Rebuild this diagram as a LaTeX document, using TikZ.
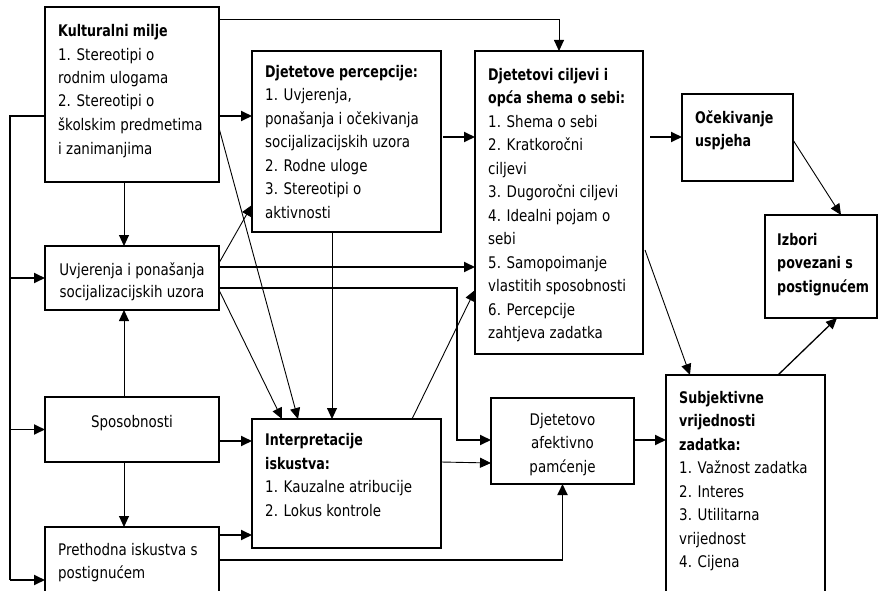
\documentclass[tikz,border=0pt]{standalone}
\usepackage{fontspec}
\setmainfont{DejaVu Sans}[FakeStretch=0.84]
\newfontfamily\titlefont{DejaVu Sans}[FakeStretch=0.79]
\usetikzlibrary{arrows.meta}
\newcommand\mybold[1]{{\titlefont\bfseries #1}}
\tikzset{
  box/.style={draw, line width=1.6pt, inner sep=0pt, outer sep=0pt},
  txt/.style={inner sep=0pt, align=left, anchor=base west, font=\fontsize{16}{23.5}\selectfont},
  ctxt/.style={inner sep=0pt, align=center, anchor=base, font=\fontsize{16}{23.5}\selectfont},
  thk/.style={line width=1.8pt, -{Triangle[length=11pt,width=10pt]}},
  thn/.style={line width=0.9pt, -{Triangle[length=11pt,width=10pt]}},
  plainthk/.style={line width=1.8pt}
}
\begin{document}
\begin{tikzpicture}[x=1pt,y=-1pt]
\useasboundingbox (0,0) rectangle (878,591);
\fill[white] (0,0) rectangle (878,591);
% boxes
\node[box, minimum width=174pt, minimum height=175pt] (K)  at (132,94.5) {};
\node[box, minimum width=189pt, minimum height=181pt] (DP) at (346.5,141.5) {};
\node[box, minimum width=168pt, minimum height=303pt] (DC) at (559,202.5) {};
\node[box, minimum width=111pt, minimum height=87pt]  (OU) at (737.5,137.5) {};
\node[box, minimum width=112pt, minimum height=103pt] (IZ) at (821,266.5) {};
\node[box, minimum width=174pt, minimum height=64pt]  (UP) at (132,278) {};
\node[box, minimum width=174pt, minimum height=65pt]  (SP) at (132,429.5) {};
\node[box, minimum width=174pt, minimum height=83pt]  (PR) at (132,568.5) {};
\node[box, minimum width=189pt, minimum height=129pt] (IN) at (346.5,483.5) {};
\node[box, minimum width=143pt, minimum height=86pt]  (AP) at (562.5,441) {};
\node[box, minimum width=159pt, minimum height=235pt] (SV) at (745.5,492.5) {};
% texts (anchor = baseline of the last line)
\node[txt] (Kt) at (58,154) {\mybold{Kulturalni milje}\\1. Stereotipi o\\rodnim ulogama\\2. Stereotipi o\\školskim predmetima\\i zanimanjima};
\node[txt] (DPt) at (265,218) {\mybold{Djetetove percepcije:}\\1. Uvjerenja,\\ponašanja i očekivanja\\socijalizacijskih uzora\\2. Rodne uloge\\3. Stereotipi o\\aktivnosti};
\node[txt] (DCt) at (488,338.5) {\mybold{Djetetovi ciljevi i}\\\mybold{opća shema o sebi:}\\1. Shema o sebi\\2. Kratkoročni\\ciljevi\\3. Dugoročni ciljevi\\4. Idealni pojam o\\sebi\\5. Samopoimanje\\vlastitih sposobnosti\\6. Percepcije\\zahtjeva zadatka};
\node[txt] (OUt) at (695,146.5) {\mybold{Očekivanje}\\\mybold{uspjeha}};
\node[txt] (IZt) at (777,292) {\mybold{Izbori}\\\mybold{povezani s}\\\mybold{postignućem}};
\node[ctxt, font=\fontsize{16}{22}\selectfont] (UPt) at (132,297) {Uvjerenja i ponašanja\\socijalizacijskih uzora};
\node[ctxt] (SPt) at (132,427) {Sposobnosti};
\node[txt] (PRt) at (58,578.5) {Prethodna iskustva s\\postignućem};
\node[txt] (INt) at (265,516) {\mybold{Interpretacije}\\\mybold{iskustva:}\\1. Kauzalne atribucije\\2. Lokus kontrole};
\node[ctxt] (APt) at (562.5,472) {Djetetovo\\afektivno\\pamćenje};
\node[txt] (SVt) at (679,567.5) {\mybold{Subjektivne}\\\mybold{vrijednosti}\\\mybold{zadatka:}\\1. Važnost zadatka\\2. Interes\\3. Utilitarna\\vrijednost\\4. Cijena};
% helper coordinates
\coordinate (bus) at (10,0);
\coordinate (cx) at (124,0);
\coordinate (kk) at (457,0);
% connectors
\draw[thn] (K.east |- 0,19) -| (DC.north);
\draw[thk] (K.east |- 0,116) -- (DP.west |- 0,116);
\draw[plainthk] (K.west |- 0,116) -- (bus |- 0,116) -- (bus |- 0,580);
\draw[thk] (bus |- 0,580) -- (PR.west |- 0,580);
\draw[thk] (bus |- UP.west) -- (UP.west);
\draw[thk] (bus |- SP.west) -- (SP.west);
\draw[thn] (K.south -| cx) -- (UP.north -| cx);
\draw[thn] (SP.north -| cx) -- (UP.south -| cx);
\draw[thn] (SP.south -| cx) -- (PR.north -| cx);
\draw[thk] (SP.east |- 0,441) -- (IN.west |- 0,441);
\draw[thk] (PR.east |- 0,535) -- (IN.west |- 0,535);
\draw[thk] (PR.east |- 0,560) -| (AP.south);
\draw[thk] (UP.east |- 0,267) -- (DC.west |- 0,267);
\draw[thk] (UP.east |- 0,288) -- (kk |- 0,288) -- (kk |- 0,440) -- (AP.west |- 0,440);
\draw[thn] (UP.east |- 0,263) -- (DP.west |- 0,205);
\draw[thn] (UP.east |- 0,290) -- (IN.north -| 282,0);
\draw[thn] (K.east |- 0,128) -- (IN.north -| 298,0);
\draw[thn] (DP.south -| 332,0) -- (IN.north -| 332,0);
\draw[thn] (IN.north -| 412,0) -- (DC.west |- 0,290);
\draw[thn] (IN.east |- 0,462) -- (AP.west |- 0,463);
\draw[thk] ([xshift=2pt]DP.east |- 0,137) -- (DC.west |- 0,137);
\draw[thk] ([xshift=7pt]DC.east |- 0,137) -- (OU.west |- 0,137);
\draw[thn] (OU.east |- 0,140) -- (IZ.north -| 841,0);
\draw[thn] ([xshift=2pt]DC.east |- 0,250) -- (SV.north -| 690,0);
\draw[line width=1.3pt, -{Triangle[length=11pt,width=10pt]}] (SV.north -| 778,0) -- (IZ.south -| 837,0);
\draw[thk] (AP.east |- 0,440) -- (SV.west |- 0,440);
\end{tikzpicture}
\end{document}
